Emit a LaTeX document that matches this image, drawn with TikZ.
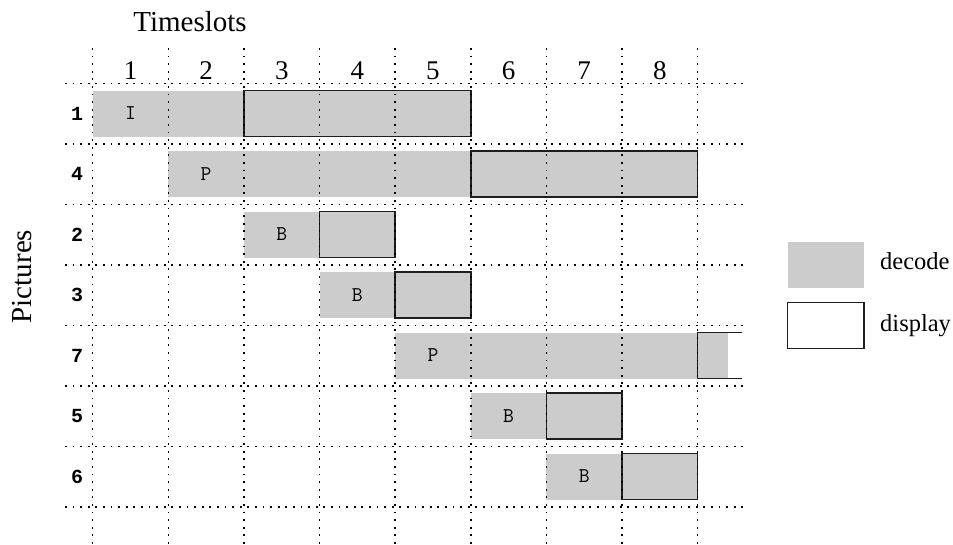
\documentclass[tikz,border=0pt]{standalone}
\usepackage{fontspec}
\setmainfont{Liberation Serif}
\newfontfamily\labmono{Liberation Mono}
\definecolor{decodegray}{RGB}{204,204,204}
\definecolor{outline}{RGB}{30,30,30}
\tikzset{
  gridline/.style={line width=1.5pt, dash pattern=on 1.8pt off 5.8pt, black},
  decodebox/.style={fill=decodegray, draw=none},
  displaybox/.style={draw=outline, line width=1.4pt},
  colnum/.style={font=\fontsize{27}{30}\selectfont, anchor=base, inner sep=0pt},
  rowlab/.style={font=\labmono\bfseries\fontsize{20}{22}\selectfont, inner sep=0pt},
  boxlab/.style={font=\ttfamily\fontsize{21}{23}\selectfont, inner sep=0pt},
  legendtext/.style={font=\fontsize{24.5}{27}\selectfont, anchor=base west, inner sep=0pt},
}
\begin{document}
\begin{tikzpicture}[x=1pt,y=-1pt]
\useasboundingbox (0,0) rectangle (953,545);
\fill[white] (0,0) rectangle (953,545);
\node[font=\fontsize{29}{32}\selectfont, anchor=base, inner sep=0pt] (timeslots) at (190,31.7) {Timeslots};
\node[font=\fontsize{29}{32}\selectfont, rotate=90, inner sep=0pt] (pictures) at (22.5,276.5) {Pictures};
\begin{scope}[shift={(92.7,83.3)}, x=75.62pt, y=-60.5pt]
  % task boxes: row, decode start, display start, display end, letter
  \newcommand{\drawtask}[5]{%
    \fill[decodebox] (#2,#1+0.121) rectangle (#4,#1+0.88);
    \draw[displaybox] (#3,#1+0.121) rectangle (#4,#1+0.88);
    \node[boxlab] (b#1) at (#2+0.5,#1+0.5) {#5};
  }
  \drawtask{0}{0}{2}{5}{I}
  \drawtask{1}{1}{5}{8}{P}
  \drawtask{2}{2}{3}{4}{B}
  \drawtask{3}{3}{4}{5}{B}
  \drawtask{5}{5}{6}{7}{B}
  \drawtask{6}{6}{7}{8}{B}
  % row 7: partially shown
  \fill[decodebox] (4,4.121) rectangle (8.397,4.88);
  \node[boxlab] (b4) at (4.5,4.5) {P};
  \draw[displaybox] (8.59,4.121) -- (8,4.121) -- (8,4.88) -- (8.59,4.88);
  % grid
  \foreach \c in {0,...,8} \draw[gridline] (\c,-0.583) -- (\c,7.63);
  \foreach \r in {0,...,7} \draw[gridline] (-0.366,\r) -- (8.6,\r);
  % column numbers
  \foreach \c in {1,...,8} \node[colnum] (c\c) at (\c-0.5,-0.055) {\c};
  % row labels
  \foreach \r/\lab in {0/1,1/4,2/2,3/3,4/7,5/5,6/6}
    \node[rowlab] (r\r) at (-0.205,\r+0.5) {\lab};
\end{scope}
% legend
\fill[decodebox] (787.7,241.7) rectangle (864,287.7);
\node[legendtext] (ldecode) at (880,269.3) {decode};
\draw[displaybox] (787.7,302.3) rectangle (864,348.3);
\node[legendtext] (ldisplay) at (880,331) {display};
\end{tikzpicture}
\end{document}
